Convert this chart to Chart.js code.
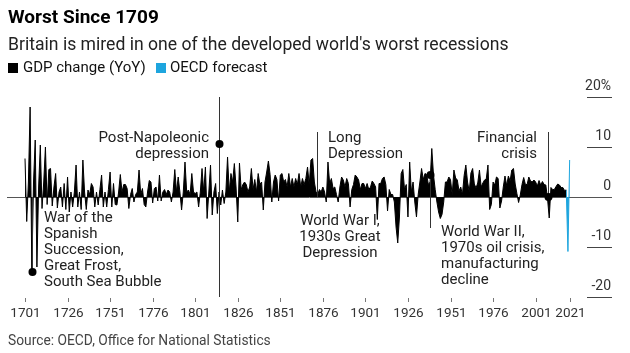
<!DOCTYPE html>
<html>
<head>
<meta charset="utf-8">
<script src="https://cdn.jsdelivr.net/npm/chart.js@4.4.1/dist/chart.umd.min.js"></script>
<style>
  html, body { margin: 0; padding: 0; background: #fff; }
  #wrap { position: relative; width: 630px; height: 353px; overflow: hidden;
          font-family: Roboto, 'Liberation Sans', sans-serif; color: #000; }
  #chart { position: absolute; left: 0; top: 0; }
  .title { position: absolute; left: 8px; top: 7px; font-size: 19px; font-weight: 700; line-height: 20px; }
  .sub { position: absolute; left: 8px; top: 34px; font-size: 17.6px; line-height: 20px; color: #222; }
  .lg { position: absolute; top: 59px; font-size: 15px; line-height: 17px; color: #111; }
  .sw { position: absolute; top: 63px; width: 10px; height: 10px; }
  .source { position: absolute; left: 8px; top: 332px; font-size: 13.8px; line-height: 16px; color: #444; }
</style>
</head>
<body>
<div id="wrap">
  <canvas id="chart" width="630" height="353"></canvas>
  <div class="title">Worst Since 1709</div>
  <div class="sub">Britain is mired in one of the developed world's worst recessions</div>
  <div class="sw" style="left:8px;background:#000"></div>
  <div class="lg" style="left:23px">GDP change (YoY)</div>
  <div class="sw" style="left:156px;background:#1ea5de"></div>
  <div class="lg" style="left:170px">OECD forecast</div>
  <div class="source">Source: OECD, Office for National Statistics</div>
</div>
<script>
// GDP change, % year on year
var gdp1700s = [ // 1701-1799
  7.7, -4.9, 3, 18, -15, 3, 11.4, -14, 2, 10.4,
  -2.3, 3, 10, -1.5, 5.5, 5.7, -1.8, 2, 4.7, -2.2,
  1, 2, -2, 2.7, -2.5, 4, -3, 1, -2, 1,
  6.4, -2, 1, -2.5, 7.4, 1, -2.5, 1.4, 0.5, 2.7,
  2, -2, 1, -1.6, 1.5, 4.4, -2, 1, -2, 1.5,
  5, -2, 2.7, -1.5, -1.6, 1, 4.5, 1, 2.5, 2.5,
  1.7, -2.3, 0.5, 1.7, -1, 0.5, 1, 5.4, 0.5, 1.7,
  -1.5, -2, 1, 3.3, 3, -1.2, 1.7, 2, -0.8, 4.4,
  -0.8, 1, 1.5, 0.5, 1.4, 1, -1, 1, 5.5, 1,
  4, 1, -2.6, 1, 7, 1, 1.4, 0.5, 4.7
];
var gdp1800s = [ // 1800-1899
  1, 0.7, 1, -2, 1, 5.7, 1, 6, -4.3, 1,
  6.4, -3.6, 1, 2.7, -3.3, 1, -1.6, 1.4, -1.3, 1,
  8, 1, 4.7, 3, 6.7, 2, -5, 6.8, 1.5, 2.5,
  3, 2.5, 1, 2, 5.7, 1.5, 3.5, 1, 4.7, 2.5,
  3, -2.6, 3, 5, 7.2, 4.5, -1, 3, 4.4, 3.5,
  -0.8, 4.4, 4.7, 3, 3.5, 2, 4.7, 2, 3.7, 2,
  3.7, 2.5, 4.7, 2, 3.7, 2.5, 3.7, 6, 2.5, 7.4,
  7.7, 3, 1, 0.5, 1.5, 1, 2, 1, -1, 7,
  2.7, 3.7, 1.7, 2, 0.5, -1, 2, 4, 3.4, 2,
  3.7, 2.7, -2, 1.5, 2.5, 4.4, 4, 3.4, 1.5, 2.7
];
var gdp1900s = [ // 1900-1999
  2.7, 1.7, 2.7, 1.5, 2, 3.2, 2.7, 2, -4.5, 2.7,
  2.7, 3.7, 4, 2.5, -2.8, 1.5, 0.5, 0.5, -1, -6,
  -9.2, -4, 4.7, 5.5, 1.5, 2.5, -4, 7, 1, 3,
  -1, -4, 0.5, 3, 5.7, 3.5, 4.7, 4.5, 2.5, 3,
  9.7, 4.4, 1.5, -1, -3, -4.3, -3.5, -1, 3, 3,
  4, 3.5, 0.5, 5.4, 3.8, 3.4, 1.2, 2, 0.5, 4.3,
  6.4, 3, 1.1, 4.8, 5.7, 2.6, 1.8, 2.8, 5.4, 2,
  2.8, 3.4, 3.6, 6.4, -2.5, -1.5, 3, 2.4, 4, 3.7,
  -2.2, -0.8, 2, 4.2, 2.3, 4.2, 3.2, 5.4, 5.7, 2.6,
  0.7, -1.1, 0.4, 2.5, 3.9, 2.5, 2.5, 4, 3.2, 3
];
var gdp2000s = [ // 2000-2019
  3.4, 3, 2.2, 3.3, 2.4, 3.1, 2.5, 2.4, -0.3, -4.2,
  1.9, 1.5, 1.5, 2.1, 2.6, 2.4, 1.9, 1.9, 1.3, 1.4
];
var forecastYears = [2019, 2020, 2021];
var forecastValues = [1.4, -10.9, 7.4];

var xTickYears = [1701, 1726, 1751, 1776, 1801, 1826, 1851, 1876, 1901, 1926, 1951, 1976, 2001, 2021];
var yTickValues = [20, 10, 0, -10, -20];
var yTickLabels = ['20%', '10', '0', '-10', '-20'];

var notes = [
  { year: 1705.3, from: 0, to: -15, dot: -15, lines: ['War of the', 'Spanish', 'Succession,', 'Great Frost,', 'South Sea Bubble'], x: 44, y: 218, align: 'left' },
  { year: 1815, from: 20, to: -20, dot: 10.6, lines: ['Post-Napoleonic', 'depression'], x: 209, y: 138, align: 'right' },
  { year: 1872.6, from: 13, to: 0, dot: null, lines: ['Long', 'Depression'], x: 328, y: 138, align: 'left' },
  { year: null, lines: ['World War I,', '1930s Great', 'Depression'], x: 340, y: 221, align: 'center' },
  { year: 1939, from: 4.4, to: -6.2, dot: 4.4, lines: ['World War II,', '1970s oil crisis,', 'manufacturing', 'decline'], x: 441, y: 232, align: 'left' },
  { year: 2008, from: 13, to: 0, dot: 0, lines: ['Financial', 'crisis'], x: 537, y: 138, align: 'right' }
];

var allGdp = gdp1700s.concat(gdp1800s, gdp1900s, gdp2000s);
var gdpPoints = allGdp.map(function (v, i) { return { x: 1701 + i, y: v }; });
var forecastPoints = forecastYears.map(function (yr, i) { return { x: yr, y: forecastValues[i] }; });

var FONT = 'Roboto, "Liberation Sans", sans-serif';

var bbgAxes = {
  id: 'bbgAxes',
  beforeDatasetsDraw: function (chart) {
    var ctx = chart.ctx, a = chart.chartArea, x = chart.scales.x, y = chart.scales.y;
    ctx.save();
    ctx.strokeStyle = '#555';
    ctx.lineWidth = 1;
    var y0 = Math.round(y.getPixelForValue(0)) + 0.5;
    ctx.beginPath(); ctx.moveTo(a.left, y0); ctx.lineTo(a.right, y0); ctx.stroke();

    ctx.font = '14px ' + FONT;
    ctx.fillStyle = '#333';
    ctx.textAlign = 'right';
    ctx.textBaseline = 'alphabetic';
    ctx.strokeStyle = '#444';
    yTickValues.forEach(function (v, i) {
      var py = Math.round(y.getPixelForValue(v)) + 0.5;
      if (v !== 0) {
        ctx.beginPath(); ctx.moveTo(a.right - 25, py); ctx.lineTo(a.right, py); ctx.stroke();
      }
      ctx.fillText(yTickLabels[i], a.right - 1, py - 8);
    });

    ctx.textAlign = 'center';
    ctx.font = '13.5px ' + FONT;
    ctx.strokeStyle = '#777';
    xTickYears.forEach(function (yr) {
      var px = Math.round(x.getPixelForValue(yr)) + 0.5;
      ctx.beginPath(); ctx.moveTo(px, a.bottom + 1); ctx.lineTo(px, a.bottom + 5); ctx.stroke();
      ctx.fillText(String(yr), px, a.bottom + 20);
    });
    ctx.restore();
  },
  afterDatasetsDraw: function (chart) {
    var ctx = chart.ctx, x = chart.scales.x, y = chart.scales.y;
    ctx.save();
    notes.forEach(function (n) {
      if (n.year !== null) {
        var px = Math.round(x.getPixelForValue(n.year)) + 0.5;
        ctx.strokeStyle = '#333';
        ctx.lineWidth = 1;
        ctx.beginPath();
        ctx.moveTo(px, y.getPixelForValue(n.from));
        ctx.lineTo(px, y.getPixelForValue(n.to));
        ctx.stroke();
        if (n.dot !== null) {
          ctx.fillStyle = '#000';
          ctx.beginPath();
          ctx.arc(px, y.getPixelForValue(n.dot), 4, 0, Math.PI * 2);
          ctx.fill();
        }
      }
      ctx.font = '15px ' + FONT;
      ctx.fillStyle = '#222';
      ctx.textAlign = n.align;
      ctx.textBaseline = 'middle';
      n.lines.forEach(function (t, i) { ctx.fillText(t, n.x, n.y + i * 16); });
    });
    ctx.restore();
  }
};

new Chart(document.getElementById('chart'), {
  type: 'line',
  data: {
    datasets: [
      { label: 'GDP change (YoY)', data: gdpPoints, borderColor: '#000', backgroundColor: '#000',
        borderWidth: 1, fill: 'origin', pointRadius: 0, tension: 0 },
      { label: 'OECD forecast', data: forecastPoints, borderColor: '#1ea5de', backgroundColor: '#1ea5de',
        borderWidth: 1, fill: 'origin', pointRadius: 0, tension: 0 }
    ]
  },
  options: {
    responsive: false,
    animation: false,
    devicePixelRatio: 1,
    layout: { padding: { left: 7, right: 18, top: 97, bottom: 56 } },
    plugins: { legend: { display: false }, tooltip: { enabled: false } },
    scales: {
      x: { type: 'linear', display: false, min: 1690.42, max: 2045.88 },
      y: { type: 'linear', display: false, min: -20, max: 20 }
    }
  },
  plugins: [bbgAxes]
});
</script>
</body>
</html>
